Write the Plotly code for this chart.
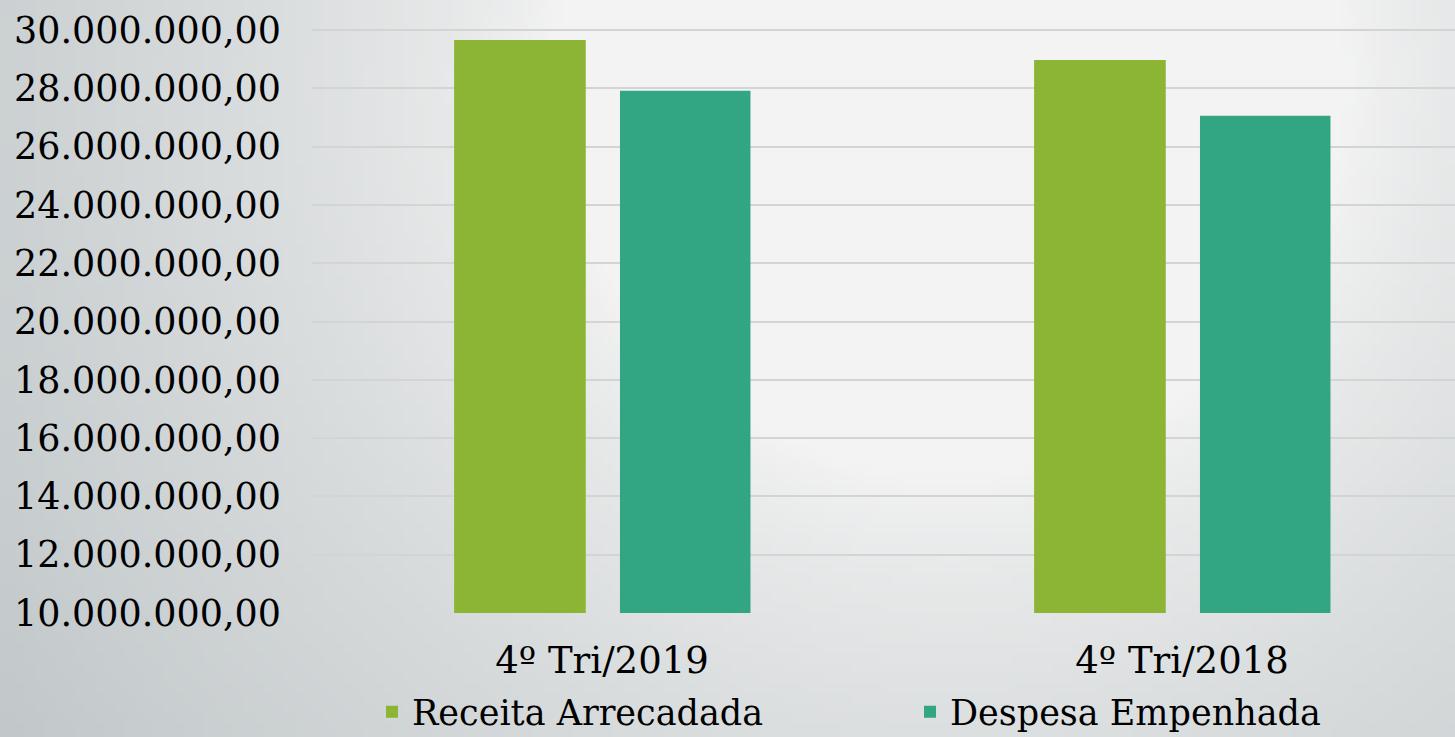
import base64, struct, zlib, math
import plotly.graph_objects as go

# ---- data ----
categories = ["4º Tri/2019", "4º Tri/2018"]
receita = [29660000, 28970000]
despesa = [27920000, 27060000]
series_names = ["Receita Arrecadada", "Despesa Empenhada"]
y_ticks = [10e6, 12e6, 14e6, 16e6, 18e6, 20e6, 22e6, 24e6, 26e6, 28e6, 30e6]

W, H = 1455, 737
ML, MR, MT, MB = 312, 0, 25, 124

# ---- background gradient png (radial, light top-center-right, darker bottom-left) ----
def make_png(w, h):
    rows = []
    cx, cy = 950, 80
    light = (243, 243, 243)
    dark = (194, 200, 202)
    for j in range(h):
        row = bytearray([0])
        py = (j + 0.5) * H / h
        for i in range(w):
            px = (i + 0.5) * W / w
            d = math.hypot(px - cx, py - cy)
            t = max(0.0, min(1.0, (d - 400) / 750))
            t = t ** 0.7
            row += bytes(int(round(light[k] + (dark[k] - light[k]) * t)) for k in range(3))
        rows.append(bytes(row))
    raw = b"".join(rows)
    def chunk(tag, data):
        c = tag + data
        return struct.pack(">I", len(data)) + c + struct.pack(">I", zlib.crc32(c) & 0xffffffff)
    png = b"\x89PNG\r\n\x1a\n"
    png += chunk(b"IHDR", struct.pack(">IIBBBBB", w, h, 8, 2, 0, 0, 0))
    png += chunk(b"IDAT", zlib.compress(raw, 9))
    png += chunk(b"IEND", b"")
    return "data:image/png;base64," + base64.b64encode(png).decode()

bg = make_png(146, 74)

pw = W - ML - MR
ph = H - MT - MB
cat_px = 580.0

fig = go.Figure()
fig.add_trace(go.Bar(x=categories, y=receita, name=series_names[0],
                     marker=dict(color="#8cb535", line=dict(width=0)),
                     width=0.227, offset=-0.255))
fig.add_trace(go.Bar(x=categories, y=despesa, name=series_names[1],
                     marker=dict(color="#32a683", line=dict(width=0)),
                     width=0.225, offset=0.031))

font_family = "DejaVu Serif"
fig.update_layout(
    width=W, height=H,
    margin=dict(l=ML, r=MR, t=MT, b=MB, pad=0, autoexpand=False),
    paper_bgcolor="#e8e9e9",
    plot_bgcolor="rgba(0,0,0,0)",
    separators=",.",
    font=dict(family=font_family, color="#000000", size=34),
    barmode="group",
    showlegend=True,
    legend=dict(orientation="h", x=(372 - ML) / pw, xanchor="left",
                y=-(712 - (MT + ph)) / ph, yanchor="middle",
                font=dict(family=font_family, size=35, color="#000000"),
                bgcolor="rgba(0,0,0,0)", borderwidth=0, entrywidth=493, itemwidth=30),
    images=[dict(source=bg, xref="paper", yref="paper",
                 x=-ML / pw, y=1 + MT / ph, sizex=W / pw, sizey=H / ph,
                 xanchor="left", yanchor="top", sizing="stretch", layer="below")],
)
fig.update_xaxes(range=[-0.5, -0.5 + pw / cat_px], showgrid=False, zeroline=False,
                 showline=False, ticks="", ticklabelstandoff=22,
                 tickfont=dict(family=font_family, size=37, color="#000000"))
fig.update_yaxes(range=[10e6, 30e6 + 5 / 29.15 * 1e6], tickvals=y_ticks,
                 tickformat=",.2f", showgrid=True, gridcolor="#d3d4d4", gridwidth=1.5,
                 zeroline=False, showline=False, ticks="", ticklabelstandoff=30,
                 tickfont=dict(family=font_family, size=36.5, color="#000000"))

fig.write_html("out.html", config={"displayModeBar": False},
               post_script="document.body.style.margin='0';document.body.style.padding='0';")
